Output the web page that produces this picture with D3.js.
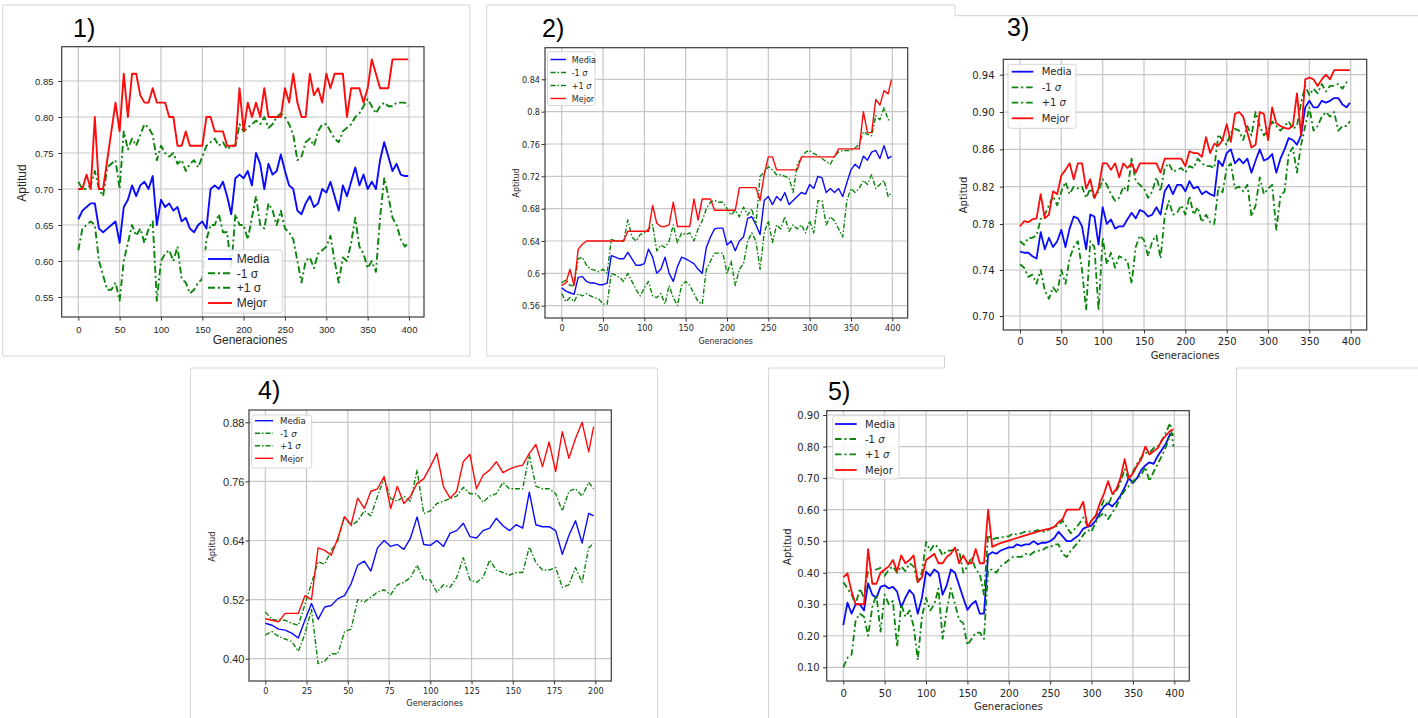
<!DOCTYPE html>
<html>
<head>
<meta charset="utf-8">
<script src="https://cdn.jsdelivr.net/npm/d3@7"></script>
<style>
  body { margin: 0; background: #fff; }
  svg { display: block; }
</style>
</head>
<body>
<svg id="chart" width="1418" height="718"></svg>
<script>
// generations sampled along the x axis
const gens400 = [0,5,10,15,20,25,30,35,40,45,50,55,60,65,70,75,80,85,90,95,
  100,105,110,115,120,125,130,135,140,145,150,155,160,165,170,175,180,185,190,195,
  200,205,210,215,220,225,230,235,240,245,250,255,260,265,270,275,280,285,290,295,
  300,305,310,315,320,325,330,335,340,345,350,355,360,365,370,375,380,385,390,395,399]
const gens200 = [0,4,8,12,16,20,24,28,32,36,40,44,48,52,56,60,64,68,72,76,
  80,84,88,92,96,100,104,108,112,116,120,124,128,132,136,140,144,148,152,156,
  160,164,168,172,176,180,184,188,192,196,199]

const xTicks400 = [0,50,100,150,200,250,300,350,400]
const xTicks200 = [0,25,50,75,100,125,150,175,200]
const p1YTicks = [0.55,0.60,0.65,0.70,0.75,0.80,0.85]
const p2YTicks = [0.56,0.60,0.64,0.68,0.72,0.76,0.80,0.84]
const p3YTicks = [0.70,0.74,0.78,0.82,0.86,0.90,0.94]
const p4YTicks = [0.40,0.52,0.64,0.76,0.88]
const p5YTicks = [0.10,0.20,0.30,0.40,0.50,0.60,0.70,0.80,0.90]

// panel 1
const p1Media = [0.658,0.670,0.675,0.680,0.680,0.645,0.640,0.645,0.650,0.655,
  0.625,0.675,0.685,0.705,0.690,0.705,0.710,0.700,0.718,0.650,
  0.685,0.675,0.680,0.670,0.675,0.655,0.660,0.645,0.640,0.650,
  0.655,0.645,0.700,0.705,0.700,0.710,0.690,0.665,0.715,0.720,
  0.715,0.725,0.705,0.750,0.735,0.700,0.735,0.720,0.725,0.748,
  0.725,0.705,0.700,0.670,0.665,0.680,0.690,0.675,0.680,0.700,
  0.695,0.710,0.690,0.670,0.705,0.690,0.710,0.730,0.705,0.720,
  0.700,0.710,0.700,0.740,0.765,0.745,0.725,0.735,0.720,0.718,0.718]
const p1Menos = [0.615,0.645,0.650,0.655,0.650,0.600,0.580,0.560,0.560,0.570,
  0.545,0.600,0.625,0.650,0.635,0.645,0.625,0.645,0.655,0.545,
  0.600,0.610,0.615,0.600,0.620,0.575,0.570,0.555,0.560,0.570,
  0.575,0.630,0.650,0.650,0.665,0.640,0.640,0.590,0.665,0.650,
  0.650,0.630,0.660,0.690,0.650,0.645,0.680,0.670,0.650,0.670,
  0.645,0.640,0.630,0.600,0.570,0.600,0.605,0.590,0.610,0.615,
  0.620,0.635,0.600,0.570,0.605,0.600,0.625,0.660,0.620,0.610,
  0.590,0.600,0.585,0.660,0.715,0.690,0.660,0.650,0.630,0.620,0.625]
const p1Mas = [0.710,0.700,0.700,0.705,0.725,0.700,0.690,0.730,0.735,0.740,
  0.700,0.780,0.755,0.770,0.760,0.775,0.790,0.785,0.775,0.740,
  0.760,0.750,0.745,0.750,0.735,0.740,0.725,0.735,0.740,0.730,
  0.745,0.760,0.765,0.770,0.760,0.765,0.755,0.760,0.760,0.790,
  0.780,0.785,0.790,0.795,0.790,0.800,0.785,0.790,0.800,0.805,
  0.800,0.790,0.775,0.740,0.745,0.765,0.770,0.760,0.780,0.790,
  0.790,0.780,0.770,0.765,0.780,0.785,0.790,0.800,0.805,0.815,
  0.825,0.815,0.805,0.815,0.820,0.815,0.815,0.820,0.820,0.820,0.815]
const p1Mejor = [0.70,0.70,0.72,0.70,0.80,0.70,0.70,0.74,0.78,0.82,
  0.78,0.86,0.80,0.86,0.86,0.83,0.82,0.82,0.84,0.82,
  0.82,0.82,0.80,0.80,0.76,0.76,0.78,0.76,0.76,0.76,
  0.76,0.80,0.80,0.78,0.78,0.78,0.76,0.76,0.76,0.84,
  0.78,0.82,0.80,0.82,0.80,0.84,0.80,0.80,0.80,0.80,
  0.84,0.82,0.86,0.82,0.80,0.80,0.86,0.83,0.84,0.82,
  0.86,0.84,0.86,0.86,0.86,0.80,0.84,0.84,0.84,0.82,
  0.84,0.88,0.86,0.84,0.84,0.84,0.88,0.88,0.88,0.88,0.88]

// panel 2
const p2Media = [0.582,0.578,0.576,0.574,0.595,0.596,0.590,0.588,0.588,0.586,
  0.586,0.588,0.622,0.620,0.618,0.618,0.626,0.618,0.610,0.610,
  0.612,0.630,0.620,0.600,0.605,0.620,0.600,0.590,0.608,0.620,
  0.618,0.615,0.612,0.605,0.600,0.632,0.645,0.655,0.656,0.656,
  0.635,0.640,0.628,0.640,0.645,0.668,0.670,0.660,0.648,0.690,
  0.695,0.685,0.695,0.690,0.700,0.685,0.690,0.695,0.700,0.698,
  0.710,0.705,0.720,0.718,0.700,0.705,0.700,0.705,0.695,0.712,
  0.728,0.735,0.730,0.745,0.740,0.750,0.752,0.742,0.758,0.742,0.745]
const p2Menos = [0.575,0.565,0.570,0.565,0.575,0.572,0.575,0.572,0.570,0.568,
  0.562,0.562,0.600,0.598,0.595,0.590,0.600,0.590,0.580,0.572,
  0.582,0.590,0.572,0.570,0.575,0.562,0.585,0.570,0.560,0.585,
  0.590,0.585,0.575,0.565,0.562,0.605,0.615,0.625,0.625,0.625,
  0.600,0.615,0.585,0.605,0.612,0.640,0.650,0.640,0.605,0.650,
  0.665,0.638,0.660,0.655,0.670,0.652,0.660,0.655,0.660,0.650,
  0.665,0.650,0.690,0.690,0.660,0.670,0.665,0.655,0.645,0.690,
  0.705,0.700,0.705,0.715,0.710,0.722,0.705,0.710,0.715,0.695,0.700]
const p2Mas = [0.588,0.592,0.585,0.585,0.618,0.620,0.610,0.605,0.604,0.602,
  0.605,0.600,0.642,0.640,0.640,0.640,0.666,0.645,0.640,0.648,
  0.650,0.655,0.660,0.628,0.635,0.632,0.640,0.660,0.638,0.650,
  0.648,0.650,0.640,0.655,0.665,0.680,0.688,0.690,0.688,0.688,
  0.680,0.672,0.678,0.670,0.682,0.672,0.680,0.660,0.720,0.725,
  0.732,0.728,0.722,0.722,0.720,0.718,0.700,0.735,0.742,0.750,
  0.752,0.748,0.746,0.742,0.738,0.735,0.745,0.750,0.752,0.752,
  0.752,0.755,0.760,0.775,0.772,0.770,0.795,0.790,0.805,0.790,0.790]
const p2Mejor = [0.585,0.588,0.605,0.585,0.630,0.636,0.640,0.640,0.640,0.640,
  0.640,0.640,0.640,0.640,0.640,0.640,0.652,0.652,0.652,0.652,
  0.652,0.652,0.684,0.662,0.658,0.658,0.660,0.688,0.658,0.658,
  0.658,0.658,0.692,0.666,0.692,0.692,0.692,0.678,0.678,0.678,
  0.678,0.678,0.678,0.706,0.706,0.706,0.706,0.706,0.690,0.722,
  0.744,0.744,0.728,0.728,0.728,0.728,0.728,0.728,0.744,0.744,
  0.744,0.744,0.744,0.744,0.744,0.744,0.744,0.754,0.754,0.754,
  0.754,0.754,0.754,0.800,0.774,0.774,0.815,0.808,0.826,0.822,0.840]

// panel 3
const p3Media = [0.756,0.755,0.755,0.752,0.750,0.773,0.758,0.768,0.760,0.765,
  0.775,0.760,0.776,0.788,0.786,0.778,0.758,0.790,0.788,0.762,
  0.798,0.780,0.785,0.776,0.778,0.778,0.785,0.792,0.786,0.795,
  0.793,0.788,0.790,0.798,0.790,0.815,0.822,0.812,0.822,0.822,
  0.815,0.826,0.818,0.820,0.812,0.815,0.812,0.810,0.848,0.842,
  0.856,0.860,0.845,0.850,0.845,0.850,0.835,0.848,0.860,0.848,
  0.850,0.855,0.835,0.850,0.860,0.872,0.870,0.865,0.875,0.905,
  0.912,0.905,0.905,0.912,0.910,0.912,0.915,0.915,0.908,0.905,0.910]
const p3Menos = [0.745,0.742,0.734,0.736,0.728,0.740,0.722,0.715,0.725,0.720,
  0.740,0.728,0.750,0.760,0.765,0.740,0.705,0.765,0.760,0.705,
  0.768,0.745,0.755,0.742,0.752,0.750,0.748,0.728,0.760,0.770,
  0.766,0.752,0.765,0.770,0.750,0.788,0.805,0.790,0.792,0.800,
  0.790,0.810,0.790,0.798,0.782,0.790,0.782,0.780,0.820,0.814,
  0.840,0.845,0.818,0.820,0.815,0.822,0.788,0.800,0.830,0.812,
  0.818,0.822,0.775,0.810,0.815,0.855,0.862,0.835,0.865,0.885,
  0.905,0.880,0.885,0.895,0.900,0.895,0.900,0.880,0.885,0.885,0.890]
const p3Mas = [0.765,0.762,0.768,0.768,0.770,0.785,0.790,0.800,0.810,0.800,
  0.815,0.825,0.812,0.820,0.818,0.820,0.808,0.818,0.808,0.815,
  0.828,0.822,0.812,0.805,0.808,0.820,0.815,0.850,0.826,0.822,
  0.818,0.808,0.815,0.830,0.815,0.840,0.845,0.836,0.838,0.840,
  0.835,0.842,0.840,0.850,0.845,0.842,0.842,0.840,0.876,0.870,
  0.865,0.878,0.882,0.880,0.870,0.885,0.875,0.900,0.885,0.875,
  0.880,0.890,0.885,0.880,0.885,0.890,0.882,0.885,0.910,0.928,
  0.918,0.925,0.920,0.930,0.922,0.928,0.928,0.930,0.925,0.932,0.930]
const p3Mejor = [0.778,0.783,0.782,0.785,0.786,0.812,0.786,0.790,0.815,0.812,
  0.832,0.838,0.845,0.828,0.845,0.845,0.818,0.828,0.808,0.818,
  0.845,0.845,0.838,0.845,0.830,0.845,0.840,0.845,0.835,0.845,
  0.845,0.845,0.845,0.845,0.835,0.850,0.850,0.850,0.850,0.850,
  0.842,0.858,0.856,0.856,0.852,0.873,0.856,0.866,0.864,0.870,
  0.887,0.868,0.898,0.900,0.895,0.878,0.862,0.865,0.900,0.898,
  0.870,0.905,0.888,0.885,0.883,0.882,0.885,0.920,0.875,0.935,
  0.937,0.935,0.928,0.935,0.940,0.935,0.945,0.945,0.945,0.945,0.945]

// panel 4
const p4Media = [0.472,0.468,0.460,0.458,0.452,0.442,0.478,0.512,0.480,0.505,
  0.508,0.522,0.528,0.552,0.590,0.598,0.578,0.625,0.640,0.628,
  0.632,0.622,0.645,0.688,0.632,0.630,0.640,0.628,0.655,0.660,
  0.675,0.648,0.645,0.660,0.665,0.685,0.670,0.660,0.672,0.665,
  0.738,0.672,0.668,0.668,0.660,0.612,0.650,0.680,0.635,0.695,0.690]
const p4Menos = [0.448,0.455,0.445,0.440,0.435,0.415,0.450,0.500,0.390,0.395,
  0.410,0.410,0.455,0.460,0.520,0.515,0.525,0.535,0.540,0.530,
  0.550,0.555,0.565,0.590,0.560,0.560,0.535,0.550,0.545,0.565,
  0.605,0.560,0.555,0.565,0.600,0.580,0.575,0.570,0.575,0.575,
  0.627,0.595,0.580,0.580,0.585,0.545,0.550,0.585,0.555,0.625,0.635]
const p4Mas = [0.495,0.480,0.478,0.478,0.472,0.468,0.510,0.553,0.597,0.592,
  0.620,0.640,0.690,0.670,0.680,0.700,0.690,0.730,0.766,0.725,
  0.720,0.730,0.720,0.783,0.695,0.700,0.715,0.720,0.725,0.730,
  0.748,0.735,0.735,0.718,0.730,0.735,0.758,0.745,0.745,0.745,
  0.814,0.750,0.745,0.745,0.735,0.700,0.740,0.745,0.730,0.758,0.745]
const p4Mejor = [0.481,0.478,0.475,0.492,0.492,0.492,0.528,0.520,0.625,0.620,
  0.610,0.645,0.688,0.672,0.726,0.705,0.740,0.745,0.770,0.705,
  0.750,0.715,0.730,0.756,0.765,0.790,0.817,0.749,0.726,0.740,
  0.800,0.815,0.745,0.773,0.783,0.800,0.778,0.785,0.790,0.793,
  0.817,0.835,0.790,0.840,0.780,0.861,0.807,0.847,0.880,0.820,0.871]

// panel 5
const p5Media = [0.234,0.305,0.270,0.300,0.300,0.280,0.366,0.330,0.320,0.355,
  0.360,0.350,0.355,0.340,0.290,0.320,0.345,0.330,0.270,0.320,
  0.403,0.390,0.410,0.400,0.330,0.360,0.410,0.400,0.360,0.320,
  0.282,0.300,0.310,0.270,0.270,0.456,0.465,0.460,0.470,0.475,
  0.480,0.480,0.490,0.485,0.490,0.490,0.500,0.490,0.495,0.495,
  0.500,0.510,0.530,0.515,0.500,0.500,0.510,0.520,0.540,0.545,
  0.550,0.565,0.590,0.610,0.620,0.610,0.625,0.645,0.670,0.700,
  0.685,0.700,0.725,0.740,0.750,0.745,0.770,0.790,0.810,0.840,0.835]
const p5Menos = [0.100,0.130,0.140,0.250,0.270,0.260,0.200,0.290,0.330,0.213,
  0.330,0.300,0.310,0.165,0.300,0.260,0.280,0.230,0.123,0.260,
  0.320,0.280,0.300,0.350,0.190,0.280,0.350,0.300,0.250,0.240,
  0.170,0.190,0.210,0.210,0.190,0.410,0.410,0.400,0.420,0.430,
  0.440,0.450,0.450,0.450,0.460,0.455,0.465,0.470,0.470,0.480,
  0.480,0.490,0.490,0.460,0.450,0.470,0.485,0.500,0.520,0.535,
  0.530,0.560,0.580,0.590,0.570,0.590,0.610,0.640,0.660,0.675,
  0.690,0.700,0.710,0.735,0.690,0.720,0.745,0.770,0.800,0.835,0.840]
const p5Mas = [0.370,0.350,0.330,0.300,0.350,0.320,0.408,0.410,0.410,0.415,
  0.390,0.410,0.420,0.400,0.420,0.405,0.430,0.420,0.370,0.400,
  0.498,0.470,0.490,0.480,0.455,0.470,0.470,0.475,0.470,0.400,
  0.420,0.450,0.410,0.395,0.330,0.520,0.505,0.510,0.510,0.515,
  0.515,0.525,0.520,0.525,0.530,0.530,0.530,0.535,0.530,0.530,
  0.540,0.545,0.550,0.565,0.545,0.525,0.540,0.555,0.575,0.550,
  0.565,0.580,0.600,0.630,0.615,0.645,0.660,0.685,0.730,0.695,
  0.720,0.745,0.765,0.780,0.780,0.795,0.800,0.820,0.845,0.875,0.800]
const p5Mejor = [0.385,0.398,0.340,0.300,0.300,0.300,0.475,0.365,0.365,0.400,
  0.410,0.420,0.440,0.405,0.455,0.430,0.440,0.455,0.370,0.385,
  0.440,0.450,0.460,0.430,0.430,0.450,0.460,0.480,0.430,0.455,
  0.430,0.430,0.475,0.430,0.430,0.600,0.482,0.488,0.494,0.498,
  0.502,0.506,0.510,0.514,0.518,0.522,0.526,0.530,0.534,0.537,
  0.540,0.545,0.560,0.570,0.600,0.600,0.600,0.600,0.625,0.545,
  0.565,0.580,0.620,0.650,0.690,0.650,0.665,0.700,0.760,0.700,
  0.715,0.740,0.760,0.800,0.775,0.785,0.795,0.820,0.835,0.850,0.855]

const legendNames = ['Media', '-1 ', '+1 ', 'Mejor']
const colors = ['#0a0aff', '#0a840a', '#0a840a', '#ff0a0a']

const arial = '"Liberation Sans", Arial, sans-serif'
const dejavu = '"DejaVu Sans", sans-serif'
const dejavuCond = '"DejaVu Sans Condensed", "DejaVu Sans", sans-serif'

const fmt2 = d3.format('.2f')
const fmtShort = d => String(+d.toFixed(2))

const panels = [
  { label: '1)', labelPos: [73, 37], gens: gens400, xTicks: xTicks400, yTicks: p1YTicks,
    series: [p1Media, p1Menos, p1Mas, p1Mejor],
    box: [61.7, 46.7, 424, 317], xDomain: [0, 400], xRange: [78.3, 409],
    yDomain: [0.55, 0.85], yRange: [297, 81], yFmt: fmt2,
    xTickFont: arial, xTickSize: 9.5, yTickFont: arial, yTickSize: 9.5, xTickY: 329.5, yTickX: 53.5,
    labelFont: arial, labelSize: 12, yLabel: [22, 183], xLabel: [250, 340],
    lw: 1.9, dash: '7,3,2,3', italicSigma: false,
    legendFont: arial, legendSize: 12, legendBox: [202.7, 250, 282.3, 313], legendLine: [208, 232],
    legendText: 236.7, legendRows: [259, 273.3, 287.7, 303] },
  { label: '2)', labelPos: [542, 37], gens: gens400, xTicks: xTicks400, yTicks: p2YTicks,
    series: [p2Media, p2Menos, p2Mas, p2Mejor],
    box: [545, 47.7, 907.7, 318], xDomain: [0, 400], xRange: [561.7, 892.3],
    yDomain: [0.56, 0.84], yRange: [305.7, 79.3], yFmt: fmtShort,
    xTickFont: dejavuCond, xTickSize: 9, yTickFont: dejavuCond, yTickSize: 9, xTickY: 328.3, yTickX: 540,
    labelFont: dejavuCond, labelSize: 8.8, yLabel: [516, 183], xLabel: [725.7, 340.7],
    lw: 1.4, dash: '5,2,1.5,2', italicSigma: true,
    legendFont: dejavuCond, legendSize: 9, legendBox: [547.5, 51.7, 595, 105.5], legendLine: [550.5, 566],
    legendText: 571.7, legendRows: [59.5, 72.5, 85.5, 98.5] },
  { label: '3)', labelPos: [1007, 36], gens: gens400, xTicks: xTicks400, yTicks: p3YTicks,
    series: [p3Media, p3Menos, p3Mas, p3Mejor],
    box: [1003.3, 59.3, 1366.7, 330], xDomain: [0, 400], xRange: [1020, 1350.7],
    yDomain: [0.70, 0.78, 0.94], yRange: [316, 224, 74.7], yFmt: fmt2,
    xTickFont: dejavu, xTickSize: 10, yTickFont: dejavu, yTickSize: 10, xTickY: 341, yTickX: 994.5,
    labelFont: dejavu, labelSize: 10, yLabel: [963.5, 195], xLabel: [1185, 355],
    lw: 1.8, dash: '6.5,3,2,3', italicSigma: true,
    legendFont: dejavu, legendSize: 10, legendBox: [1008, 64.3, 1076, 128.3], legendLine: [1011.7, 1033.3],
    legendText: 1041.7, legendRows: [71.7, 87.3, 102.7, 118.3] },
  { label: '4)', labelPos: [258, 399], gens: gens200, xTicks: xTicks200, yTicks: p4YTicks,
    series: [p4Media, p4Menos, p4Mas, p4Mejor],
    box: [249, 410, 611.3, 681], xDomain: [0, 200], xRange: [265.3, 595.3],
    yDomain: [0.40, 0.88], yRange: [658.7, 422.3], yFmt: fmt2,
    xTickFont: dejavuCond, xTickSize: 9, yTickFont: arial, yTickSize: 11, xTickY: 690.7, yTickX: 244.5,
    labelFont: dejavuCond, labelSize: 9.2, yLabel: [212, 546.7], xLabel: [434.7, 702.3],
    lw: 1.4, dash: '5,2,1.5,2', italicSigma: true,
    legendFont: dejavuCond, legendSize: 9.5, legendBox: [251.7, 415, 311.7, 468], legendLine: [255, 273],
    legendText: 280, legendRows: [420.7, 433.3, 445.7, 458.3] },
  { label: '5)', labelPos: [828, 400], gens: gens400, xTicks: xTicks400, yTicks: p5YTicks,
    series: [p5Media, p5Menos, p5Mas, p5Mejor],
    box: [826.7, 410.7, 1189.3, 681], xDomain: [0, 400], xRange: [843.3, 1174.3],
    yDomain: [0.10, 0.90], yRange: [667.3, 415], yFmt: fmt2,
    xTickFont: dejavu, xTickSize: 10, yTickFont: dejavu, yTickSize: 10, xTickY: 693.3, yTickX: 819.5,
    labelFont: dejavu, labelSize: 10, yLabel: [787, 546.7], xLabel: [1008.3, 706.7],
    lw: 1.8, dash: '6.5,3,2,3', italicSigma: true,
    legendFont: dejavu, legendSize: 10, legendBox: [832.7, 415.7, 899, 479], legendLine: [835, 856.7],
    legendText: 865, legendRows: [424, 439, 454.3, 470] }
]

// screenshot crop borders around the pasted figures
const frameLines = [
  [2.7, 5, 470, 5], [2.7, 5, 2.7, 356], [470, 5, 470, 356], [2.7, 356, 470, 356],
  [486.7, 5, 955, 5], [955, 5, 955, 15.7], [486.7, 5, 486.7, 356], [486.7, 356, 944.5, 356],
  [944.5, 356, 944.5, 368], [955, 15.7, 1418, 15.7],
  [1236.5, 368, 1418, 368], [1236.5, 368, 1236.5, 718],
  [768.6, 368, 944.5, 368], [768.6, 368, 768.6, 718],
  [190.5, 368, 657.5, 368], [190.5, 368, 190.5, 718], [657.5, 368, 657.5, 718]
]

const svg = d3.select('#chart')

svg.append('rect').attr('width', 1418).attr('height', 718).attr('fill', '#fff')

svg.append('g')
  .selectAll('line')
  .data(frameLines)
  .enter()
  .append('line')
    .attr('x1', d => d[0]).attr('y1', d => d[1])
    .attr('x2', d => d[2]).attr('y2', d => d[3])
    .attr('stroke', '#d4d4d4')
    .attr('stroke-width', 1)

panels.forEach((p, i) => drawPanel(p, i))

function drawPanel(p, i) {
  let [left, top, right, bottom] = p.box
  let x = d3.scaleLinear().domain(p.xDomain).range(p.xRange)
  let y = d3.scaleLinear().domain(p.yDomain).range(p.yRange)

  let g = svg.append('g').classed('panel', true)

  g.append('text')
    .attr('x', p.labelPos[0])
    .attr('y', p.labelPos[1])
    .attr('font-family', arial)
    .attr('font-size', 25)
    .attr('fill', '#000')
    .text(p.label)

  // grid
  g.append('g')
    .selectAll('line')
    .data(p.xTicks)
    .enter()
    .append('line')
      .attr('x1', d => x(d)).attr('x2', d => x(d))
      .attr('y1', top).attr('y2', bottom)
      .attr('stroke', '#c6c6c6')
      .attr('stroke-width', 1.2)
  g.append('g')
    .selectAll('line')
    .data(p.yTicks)
    .enter()
    .append('line')
      .attr('x1', left).attr('x2', right)
      .attr('y1', d => y(d)).attr('y2', d => y(d))
      .attr('stroke', '#c6c6c6')
      .attr('stroke-width', 1.2)

  // series
  let clipId = 'clip' + i
  g.append('clipPath').attr('id', clipId)
    .append('rect')
      .attr('x', left).attr('y', top)
      .attr('width', right - left).attr('height', bottom - top)

  let line = d3.line()
    .x((d, k) => x(p.gens[k]))
    .y(d => y(d))

  g.append('g')
    .attr('clip-path', `url(#${clipId})`)
    .selectAll('path')
    .data(p.series)
    .enter()
    .append('path')
      .attr('d', line)
      .attr('fill', 'none')
      .attr('stroke', (d, k) => colors[k])
      .attr('stroke-width', p.lw)
      .attr('stroke-linejoin', 'round')
      .attr('stroke-dasharray', (d, k) => (k === 1 || k === 2) ? p.dash : null)

  // axes
  let xAxis = g.append('g')
    .attr('transform', `translate(0, ${bottom})`)
    .call(d3.axisBottom(x).tickValues(p.xTicks).tickSize(3.5).tickSizeOuter(0).tickFormat(d3.format('d')))
  xAxis.select('.domain').remove()
  xAxis.selectAll('line').attr('stroke', '#333')
  xAxis.selectAll('text')
    .attr('y', p.xTickY - bottom)
    .attr('dy', '0.35em')
    .attr('font-family', p.xTickFont)
    .attr('font-size', p.xTickSize)
    .attr('fill', '#262626')

  let yAxis = g.append('g')
    .attr('transform', `translate(${left}, 0)`)
    .call(d3.axisLeft(y).tickValues(p.yTicks).tickSize(3.5).tickSizeOuter(0).tickFormat(p.yFmt))
  yAxis.select('.domain').remove()
  yAxis.selectAll('line').attr('stroke', '#333')
  yAxis.selectAll('text')
    .attr('x', p.yTickX - left)
    .attr('dy', '0.35em')
    .attr('font-family', p.yTickFont)
    .attr('font-size', p.yTickSize)
    .attr('fill', '#262626')

  g.append('rect')
    .attr('x', left).attr('y', top)
    .attr('width', right - left).attr('height', bottom - top)
    .attr('fill', 'none')
    .attr('stroke', '#3a3a3a')
    .attr('stroke-width', 1.2)

  g.append('text')
    .attr('transform', `translate(${p.yLabel[0]}, ${p.yLabel[1]}) rotate(-90)`)
    .attr('text-anchor', 'middle')
    .attr('dy', '0.35em')
    .attr('font-family', p.labelFont)
    .attr('font-size', p.labelSize)
    .attr('fill', '#262626')
    .text('Aptitud')

  g.append('text')
    .attr('x', p.xLabel[0]).attr('y', p.xLabel[1])
    .attr('text-anchor', 'middle')
    .attr('dy', '0.35em')
    .attr('font-family', p.labelFont)
    .attr('font-size', p.labelSize)
    .attr('fill', '#262626')
    .text('Generaciones')

  // legend
  let [lx0, ly0, lx1, ly1] = p.legendBox
  let legend = g.append('g').classed('legend', true)
  legend.append('rect')
    .attr('x', lx0).attr('y', ly0)
    .attr('width', lx1 - lx0).attr('height', ly1 - ly0)
    .attr('rx', 2.5)
    .attr('fill', '#fff')
    .attr('fill-opacity', 0.85)
    .attr('stroke', '#d6d6d6')
    .attr('stroke-width', 1)

  let rows = legend.selectAll('.row')
    .data(legendNames)
    .enter()
    .append('g')
      .classed('row', true)
      .attr('transform', (d, k) => `translate(0, ${p.legendRows[k]})`)

  rows.append('line')
    .attr('x1', p.legendLine[0]).attr('x2', p.legendLine[1])
    .attr('stroke', (d, k) => colors[k])
    .attr('stroke-width', p.lw)
    .attr('stroke-dasharray', (d, k) => (k === 1 || k === 2) ? p.dash : null)

  let labels = rows.append('text')
    .attr('x', p.legendText)
    .attr('dy', '0.35em')
    .attr('font-family', p.legendFont)
    .attr('font-size', p.legendSize)
    .attr('fill', '#262626')
    .text(d => d)

  labels.filter((d, k) => k === 1 || k === 2)
    .append('tspan')
      .attr('font-style', p.italicSigma ? 'italic' : 'normal')
      .text('σ')
}
</script>
</body>
</html>
